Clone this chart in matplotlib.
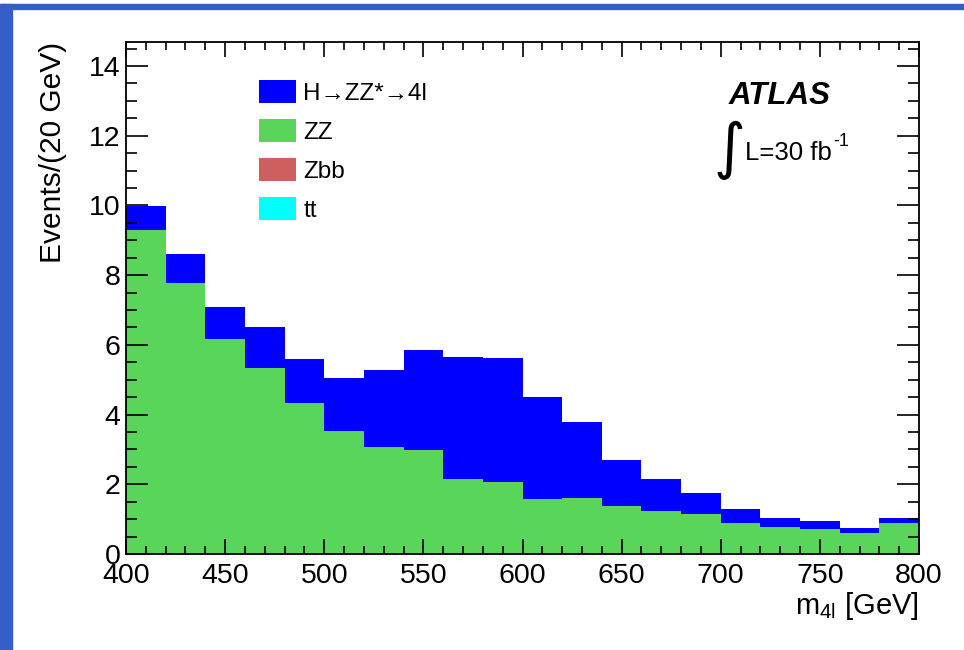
import matplotlib
matplotlib.use("Agg")
import matplotlib.pyplot as plt
from matplotlib.patches import Patch, Rectangle
from matplotlib.ticker import MultipleLocator
import numpy as np

plt.rcParams['font.family'] = ['Liberation Sans', 'DejaVu Sans']
plt.rcParams['mathtext.fontset'] = 'custom'
plt.rcParams['mathtext.rm'] = 'Liberation Sans'
plt.rcParams['mathtext.it'] = 'Liberation Sans:italic'
plt.rcParams['mathtext.default'] = 'regular'

# Data: 20 GeV bins from 400 to 800 GeV
bin_edges = list(range(400, 801, 20))
zz = [9.29, 7.77, 6.17, 5.34, 4.33, 3.53, 3.07, 2.98, 2.15, 2.07,
      1.58, 1.61, 1.38, 1.23, 1.15, 0.89, 0.77, 0.72, 0.60, 0.89]
total = [9.98, 8.61, 7.09, 6.51, 5.59, 5.05, 5.28, 5.85, 5.65, 5.62,
         4.50, 3.79, 2.70, 2.15, 1.75, 1.29, 1.03, 0.95, 0.75, 1.03]
higgs = [t - z for t, z in zip(total, zz)]
zbb = [0.0] * 20
ttbar = [0.0] * 20

labels = ["H\u2192ZZ*\u21924l", "ZZ", "Zbb", "tt"]
colors = ["#0000ff", "#59d659", "#cd5f5f", "#00ffff"]

fig = plt.figure(figsize=(9.64, 6.5), dpi=100)
# blue frame
fig.patches.append(Rectangle((0, 1 - 9 / 650), 1, 5 / 650, transform=fig.transFigure,
                             color="#355fc6", zorder=0))
fig.patches.append(Rectangle((0, 0), 12 / 964, 1 - 4 / 650, transform=fig.transFigure,
                             color="#355fc6", zorder=0))

ax = fig.add_axes([126 / 964, 1 - 554 / 650, 793 / 964, 512 / 650])

edges = np.array(bin_edges)
left = edges[:-1]
w = np.diff(edges)
b0 = np.zeros(20)
ax.bar(left, ttbar, width=w, bottom=b0, align='edge', color=colors[3], linewidth=0)
b1 = b0 + np.array(ttbar)
ax.bar(left, zbb, width=w, bottom=b1, align='edge', color=colors[2], linewidth=0)
b2 = b1 + np.array(zbb)
ax.bar(left, zz, width=w, bottom=b2, align='edge', color=colors[1], linewidth=0)
b3 = b2 + np.array(zz)
ax.bar(left, higgs, width=w, bottom=b3, align='edge', color=colors[0], linewidth=0)

ax.set_xlim(400, 800)
ax.set_ylim(0, 14.69)

ax.xaxis.set_major_locator(MultipleLocator(50))
ax.xaxis.set_minor_locator(MultipleLocator(10))
ax.yaxis.set_major_locator(MultipleLocator(2))
ax.yaxis.set_minor_locator(MultipleLocator(0.5))
ax.tick_params(which='both', direction='in', top=True, right=True, width=1.2, color='black')
ax.tick_params(axis='x', which='major', length=11, labelsize=20.5, pad=6.5)
ax.tick_params(axis='x', which='minor', length=5.5)
ax.tick_params(axis='y', which='major', length=16, labelsize=20.5, pad=4)
ax.tick_params(axis='y', which='minor', length=8)
for s in ax.spines.values():
    s.set_linewidth(1.3)

ax.set_xlabel("m$_{4l}$ [GeV]", fontsize=21, loc='right')
ax.xaxis.set_label_coords(1.0, -0.07)
ax.set_ylabel("Events/(20 GeV)", fontsize=21.5, loc='top')
ax.yaxis.set_label_coords(-0.075, 1.0)

handles = [Patch(facecolor=c, edgecolor='none') for c in colors]
leg = ax.legend(handles, labels, loc='upper left', frameon=False, fontsize=17.5,
                bbox_to_anchor=(259 / 964, 1 - 80 / 650), bbox_transform=fig.transFigure,
                borderpad=0, borderaxespad=0, handlelength=1.52, handleheight=1.1,
                labelspacing=0.58, handletextpad=0.3)

fig.text(780 / 964, 1 - 96 / 650, "ATLAS", fontsize=22.5, fontweight='bold', fontstyle='italic',
         ha='center', va='center')
fig.text(729 / 964, 1 - 150 / 650, "\u222b", fontsize=44, family='DejaVu Sans',
         ha='center', va='center')
fig.text(745 / 964, 1 - 153 / 650, "L=30 fb", fontsize=18.5, ha='left', va='center')
fig.text(833 / 964, 1 - 141 / 650, "-1", fontsize=13, ha='left', va='center')

fig.savefig("out.png", dpi=100)
